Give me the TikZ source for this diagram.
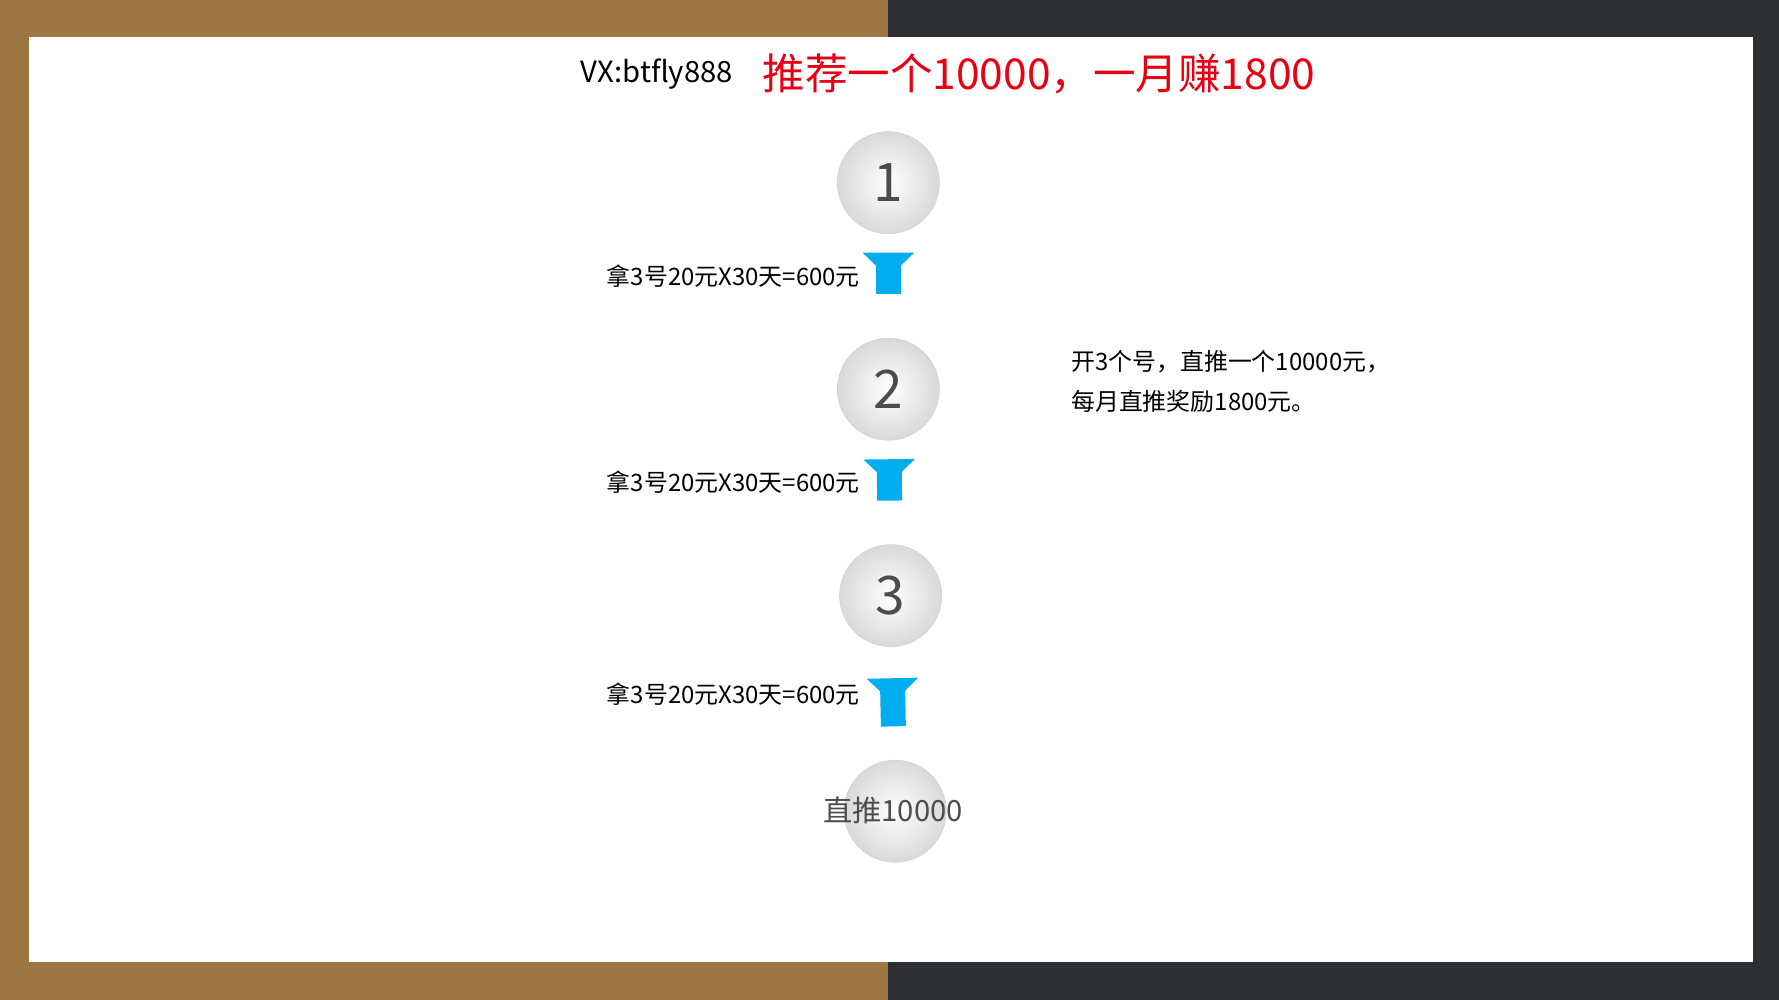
\documentclass[tikz,border=0pt]{standalone}
\usepackage{fontspec}
\setmainfont{Noto Sans CJK SC}
\usetikzlibrary{positioning, arrows.meta}
\definecolor{brownbg}{HTML}{9C7743}
\definecolor{darkbg}{HTML}{2E2F33}
\definecolor{stepblue}{HTML}{00AEEF}
\definecolor{titlered}{HTML}{E60012}
\tikzset{
  stepball/.style={circle, minimum size=2.7cm, inner sep=0pt, draw=gray!35,
    shading=radial, inner color=white, outer color=gray!30,
    text=black!70, font=\fontsize{40}{40}\selectfont},
  steparrow/.style={draw=stepblue, line width=0.66cm, shorten <=1.59cm, shorten >=1.59cm,
    -{Triangle[width=1.32cm, length=0.66cm]}},
  steplabel/.style={anchor=east, font=\fontsize{18}{18}\selectfont},
}
\begin{document}
\begin{tikzpicture}[x=0.03cm, y=-0.03cm]
  % background
  \fill[brownbg] (0,0) rectangle (783,881);
  \fill[darkbg] (783,0) rectangle (1568,881);
  \fill[white] (26,33) rectangle (1545,848);
  \useasboundingbox (0,0) rectangle (1568,881);
  % title
  \node[anchor=east, font=\fontsize{22}{22}\selectfont] (vx) at (650,65) {VX:btfly888};
  \node[anchor=west, text=titlered, font=\fontsize{32}{32}\selectfont] (title) at (668,65) {推荐一个10000，一月赚1800};
  % steps
  \node[stepball] (c1) at (783,161) {1};
  \node[stepball] (c2) at (783,343) {2};
  \node[stepball] (c3) at (785,525) {3};
  \node[stepball] (c4) at (789,715) {};
  \node[text=black!70, font=\fontsize{22}{22}\selectfont] (goal) at (787,714) {直推10000};
  \draw[steparrow] (c1) -- (c2);
  \draw[steparrow] (c2) -- (c3);
  \draw[steparrow, shorten <=2.1cm, shorten >=1.5cm] (c3) -- (c4);
  \node[steplabel] (l1) at (762,243) {拿3号20元X30天=600元};
  \node[steplabel] (l2) at (762,425) {拿3号20元X30天=600元};
  \node[steplabel] (l3) at (762,612) {拿3号20元X30天=600元};
  % note
  \node[anchor=north west, align=left, font=\fontsize{18}{30}\selectfont] (note) at (940,305)
    {开3个号，直推一个10000元，\\每月直推奖励1800元。};
\end{tikzpicture}
\end{document}
